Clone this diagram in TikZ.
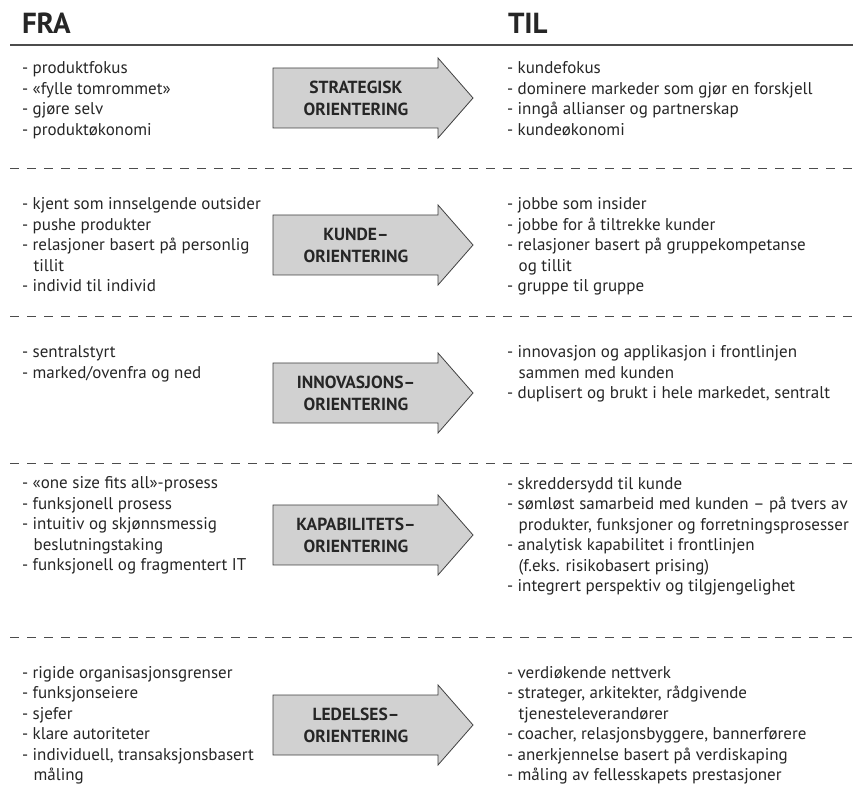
\documentclass[tikz,border=0pt]{standalone}
\usepackage{fontspec}
\setmainfont{PT Sans}
% indent for the wrapped second line of a list item
\newcommand\wrapind{\hphantom{-\ }\hspace*{1pt}}
% one orientation arrow: name, vertical centre, label
\newcommand\orientarrow[3]{%
  \draw[arrowbody] (273,#2-30) -- (438,#2-30) -- (438,#2-40) -- (473,#2)
    -- (438,#2+40) -- (438,#2+30) -- (273,#2+30) -- cycle;
  \node[arrowlabel] (#1) at (356,#2) {#3};}
\begin{document}
\begin{tikzpicture}[x=1pt,y=-1pt,
  every node/.style={inner sep=0pt, outer sep=0pt},
  heading/.style={font=\fontsize{29}{34}\selectfont\bfseries, anchor=base west, text=black!85},
  itemlist/.style={font=\fontsize{17}{20.5}\selectfont, align=left, anchor=north west, text=black!85},
  arrowbody/.style={draw=black!75, fill=black!18, line width=0.8pt, line join=miter},
  arrowlabel/.style={font=\fontsize{17.5}{22}\selectfont\bfseries, align=center, text=black!85},
  toprule/.style={draw=black!70, line width=1.2pt},
  seprule/.style={draw=black!70, line width=0.9pt, dash pattern=on 9pt off 8pt}]

\useasboundingbox (0,0) rectangle (863,791);

% column headings and top rule
\node[heading] (fra) at (22,34) {FRA};
\node[heading] (til) at (508,34) {TIL};
\coordinate (ruleL) at (10,45);
\coordinate (ruleR) at (853,45);
\draw[toprule] (ruleL) -- (ruleR);

% dashed separators between the five rows
\foreach \yy/\nm in {168/a,316/b,463/c,637/d} {
  \coordinate (sep\nm L) at (10,\yy);
  \coordinate (sep\nm R) at (853,\yy);
  \draw[seprule] (sep\nm L) -- (sep\nm R);
}

% row 1: strategic orientation
\node[itemlist] (fromA) at (22,74-14.35) {\strut- produktfokus\\- «fylle tomrommet»\\- gjøre selv\\- produktøkonomi};
\orientarrow{arrA}{98}{STRATEGISK\\ORIENTERING}
\node[itemlist] (toA) at (507,74-14.35) {\strut- kundefokus\\- dominere markeder som gjør en forskjell\\- inngå allianser og partnerskap\\- kundeøkonomi};

% row 2: customer orientation
\node[itemlist] (fromB) at (22,210-14.35) {\strut- kjent som innselgende outsider\\- pushe produkter\\- relasjoner basert på personlig\\\wrapind tillit\\- individ til individ};
\orientarrow{arrB}{245}{KUNDE–\\ORIENTERING}
\node[itemlist] (toB) at (507,210-14.35) {\strut- jobbe som insider\\- jobbe for å tiltrekke kunder\\- relasjoner basert på gruppekompetanse\\\wrapind og tillit\\- gruppe til gruppe};

% row 3: innovation orientation
\node[itemlist] (fromC) at (22,358-14.35) {\strut- sentralstyrt\\- marked/ovenfra og ned};
\orientarrow{arrC}{393}{INNOVASJONS–\\ORIENTERING}
\node[itemlist] (toC) at (507,358-14.35) {\strut- innovasjon og applikasjon i frontlinjen\\\wrapind sammen med kunden\\- duplisert og brukt i hele markedet, sentralt};

% row 4: capability orientation
\node[itemlist] (fromD) at (22,489-14.35) {\strut- «one size fits all»-prosess\\- funksjonell prosess\\- intuitiv og skjønnsmessig\\\wrapind beslutningstaking\\- funksjonell og fragmentert IT};
\orientarrow{arrD}{535}{KAPABILITETS–\\ORIENTERING}
\node[itemlist] (toD) at (507,489-14.35) {\strut- skreddersydd til kunde\\- sømløst samarbeid med kunden – på tvers av\\\wrapind produkter, funksjoner og forretningsprosesser\\- analytisk kapabilitet i frontlinjen\\\wrapind (f.eks. risikobasert prising)\\- integrert perspektiv og tilgjengelighet};

% row 5: leadership orientation
\node[itemlist] (fromE) at (22,678-14.35) {\strut- rigide organisasjonsgrenser\\- funksjonseiere\\- sjefer\\- klare autoriteter\\- individuell, transaksjonsbasert\\\wrapind måling};
\orientarrow{arrE}{725}{LEDELSES–\\ORIENTERING}
\node[itemlist] (toE) at (507,678-14.35) {\strut- verdiøkende nettverk\\- strateger, arkitekter, rådgivende\\\wrapind tjenesteleverandører\\- coacher, relasjonsbyggere, bannerførere\\- anerkjennelse basert på verdiskaping\\- måling av fellesskapets prestasjoner};
\end{tikzpicture}
\end{document}
